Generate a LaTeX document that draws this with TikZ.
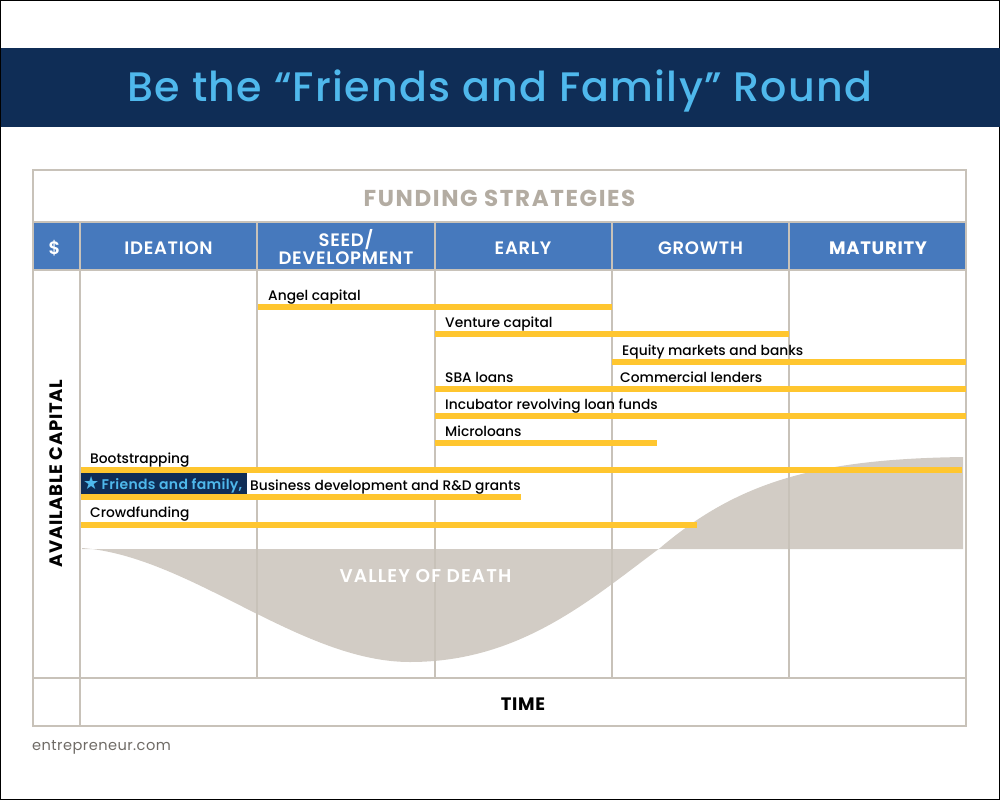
\documentclass[tikz,border=0pt]{standalone}
\usepackage{fontspec}
\setmainfont{Poppins}
\newfontfamily\medfont{Poppins Medium}
\newfontfamily\semifont{Poppins SemiBold}
\newfontfamily\starfont{DejaVu Sans}
\definecolor{navy}{HTML}{0F2D56}
\definecolor{sky}{HTML}{4FB8EC}
\definecolor{headblue}{HTML}{4679BD}
\definecolor{gridgrey}{HTML}{C8C2B9}
\definecolor{areagrey}{HTML}{D2CCC5}
\definecolor{titlegrey}{HTML}{B3ACA2}
\definecolor{baryellow}{HTML}{FFC62F}
\definecolor{webgrey}{HTML}{6F6B66}
\tikzset{
  gridline/.style={draw=gridgrey,line width=2pt},
  headtext/.style={text=white,font=\fontsize{18}{18.5}\selectfont\semifont\addfontfeature{LetterSpace=4},align=center,inner sep=0pt,anchor=center},
  barlabel/.style={text=black,font=\fontsize{13.8}{15}\selectfont\medfont,inner sep=0pt,anchor=base west},
  bigcap/.style={font=\fontsize{18}{20}\selectfont\bfseries\addfontfeature{LetterSpace=4},inner sep=0pt},
  capbar/.style={fill=baryellow,draw=none}
}
\begin{document}
\begin{tikzpicture}[x=1pt,y=-1pt]
\useasboundingbox (0,0) rectangle (1000,800);
\draw[black,line width=1.5pt] (0.5,0.5) rectangle (999.5,799.5);
\fill[navy] (1,48) rectangle (1000,127);
\node[text=sky,font=\fontsize{41.2}{46}\selectfont\medfont\addfontfeature{LetterSpace=3},inner sep=0pt,anchor=base] (title) at (500,101) {Be the “Friends and Family” Round};
% header
\fill[headblue] (33,223) rectangle (966,270);
% area
\fill[areagrey] (82,548) .. controls (190,556) and (300,662) .. (410,662)
  .. controls (520,662) and (590,600) .. (660,548)
  .. controls (740,480) and (820,459) .. (963,457)
  -- (963,549) -- (82,549) -- cycle;
% grid
\draw[gridline] (32.5,170) rectangle (966,725.5);
\draw[gridline] (32,222) -- (966,222);
\draw[gridline] (32,270) -- (966,270);
\draw[gridline] (32,678) -- (966,678);
\draw[gridline] (80,222) -- (80,725);
\draw[gridline] (257,222) -- (257,678);
\draw[gridline] (434.5,222) -- (434.5,678);
\draw[gridline] (612,222) -- (612,678);
\draw[gridline] (789,222) -- (789,678);
% header text
\node[text=titlegrey,font=\fontsize{23}{26}\selectfont\bfseries\addfontfeature{LetterSpace=7},inner sep=0pt] (funding) at (499.5,198) {FUNDING STRATEGIES};
\node[headtext] (dollar) at (54.5,248.5) {\$};
\node[headtext] (ideation) at (168.5,248.5) {IDEATION};
\node[headtext] (seed) at (346,247) {SEED/\\DEVELOPMENT};
\node[headtext] (early) at (523,248.5) {EARLY};
\node[headtext] (growth) at (700.5,248.5) {GROWTH};
\node[headtext,font=\fontsize{18}{18.5}\selectfont\bfseries\addfontfeature{LetterSpace=4}] (maturity) at (878,248.5) {MATURITY};
% bars
\fill[capbar] (258,303.7) rectangle (612,309.7);
\fill[capbar] (435,330.7) rectangle (789,336.7);
\fill[capbar] (612,358.5) rectangle (966,364.5);
\fill[capbar] (435,386.3) rectangle (966,392.3);
\fill[capbar] (435,413) rectangle (966,419);
\fill[capbar] (435,440) rectangle (657,446);
\fill[capbar] (81,467) rectangle (962,473);
\fill[capbar] (81,494) rectangle (521,500);
\fill[capbar] (81,521.6) rectangle (697,527.6);
% friends box
\fill[navy] (81,473) rectangle (247,494);
\fill[white] (247,473) rectangle (521,494);
\node[text=sky,font=\fontsize{14}{15}\selectfont\semifont\addfontfeature{LetterSpace=2.2},inner sep=0pt,anchor=base west] (friends) at (83,489) {{\starfont\fontsize{18}{18}\selectfont ★}\,Friends and family,};
% labels
\node[barlabel] (angel) at (268,300.3) {Angel capital};
\node[barlabel] (venture) at (445,327.3) {Venture capital};
\node[barlabel] (equity) at (622,355) {Equity markets and banks};
\node[barlabel] (sba) at (445,382.7) {SBA loans};
\node[barlabel] (commercial) at (620,382.7) {Commercial lenders};
\node[barlabel] (incubator) at (445,409.7) {Incubator revolving loan funds};
\node[barlabel] (micro) at (445,436.7) {Microloans};
\node[barlabel] (boot) at (90,463.3) {Bootstrapping};
\node[barlabel] (business) at (250,490) {Business development and R\&D grants};
\node[barlabel] (crowd) at (90,517.3) {Crowdfunding};
% others
\node[text=white,font=\fontsize{18.5}{20}\selectfont\semifont\addfontfeature{LetterSpace=6},inner sep=0pt] (valley) at (425.5,576.5) {VALLEY OF DEATH};
\node[text=black,bigcap,rotate=90] (capital) at (56,473.5) {AVAILABLE CAPITAL};
\node[text=black,bigcap] (time) at (523,704) {TIME};
\node[text=webgrey,font=\fontsize{14.6}{17}\selectfont\addfontfeature{LetterSpace=3},inner sep=0pt,anchor=west] (web) at (32,747.5) {entrepreneur.com};
\end{tikzpicture}
\end{document}
